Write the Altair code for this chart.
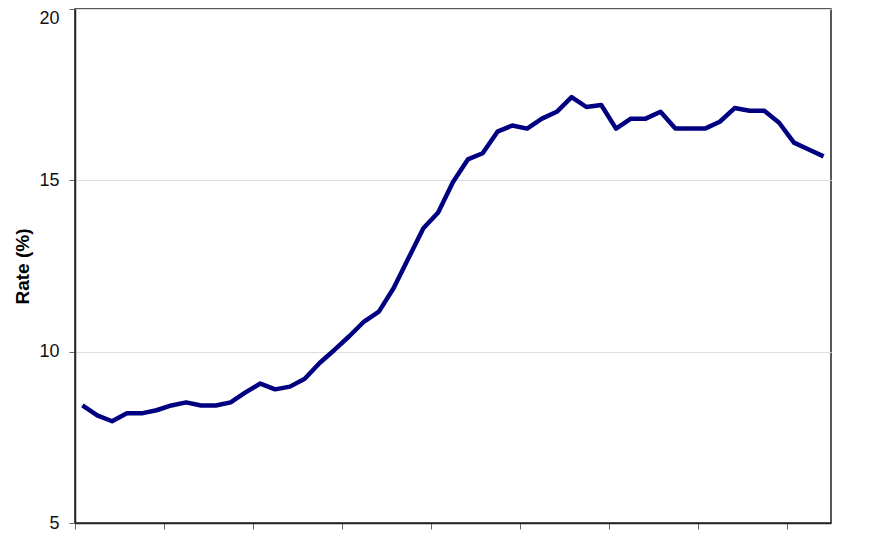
import altair as alt
import pandas as pd

values = [8.43, 8.14, 7.97, 8.2, 8.2, 8.29, 8.43, 8.52, 8.43, 8.43, 8.52, 8.81,
          9.07, 8.9, 8.98, 9.21, 9.67, 10.05, 10.45, 10.88, 11.17, 11.86, 12.73,
          13.6, 14.06, 14.95, 15.61, 15.79, 16.42, 16.6, 16.51, 16.8, 17.0, 17.43,
          17.14, 17.2, 16.51, 16.8, 16.8, 17.0, 16.51, 16.51, 16.51, 16.71, 17.11,
          17.03, 17.03, 16.68, 16.1, 15.9, 15.7]
period = list(range(len(values)))
y_ticks = [5, 10, 15, 20]
x_ticks = [0, 6, 12, 18, 24, 30, 36, 42, 48]

df = pd.DataFrame({"pos": [p + 0.5 for p in period], "rate": values})

chart = alt.Chart(df).mark_line(color="#000080", strokeWidth=4.5, strokeJoin="round").encode(
    x=alt.X("pos:Q", scale=alt.Scale(domain=[0, len(values)], nice=False, zero=False),
            axis=alt.Axis(values=x_ticks, labels=False, title=None, grid=False,
                          tickSize=6, tickColor="#666", domainColor="#222", domainWidth=1.5)),
    y=alt.Y("rate:Q", scale=alt.Scale(domain=[5, 20], nice=False, zero=False),
            axis=alt.Axis(values=y_ticks, title="Rate (%)", grid=True, gridColor="#dddddd",
                          tickSize=6, tickColor="#666", domainColor="#222", domainWidth=1.5,
                          labelFont="Liberation Sans", labelFontSize=18, labelColor="#111",
                          labelPadding=10,
                          labelBaseline={"condition": {"test": "datum.value == 20", "value": "top"},
                                         "value": "middle"},
                          titleFont="Liberation Sans", titleFontSize=19, titleFontWeight="bold",
                          titleColor="#000", titlePadding=6)),
).properties(
    width=756, height=514,
    autosize=alt.AutoSizeParams(type="none"),
    padding={"left": 67, "top": 1, "right": 10, "bottom": 10},
).configure_view(stroke="#222", strokeWidth=1.5)

chart.save("out.html", embed_options={"renderer": "svg", "actions": False})
